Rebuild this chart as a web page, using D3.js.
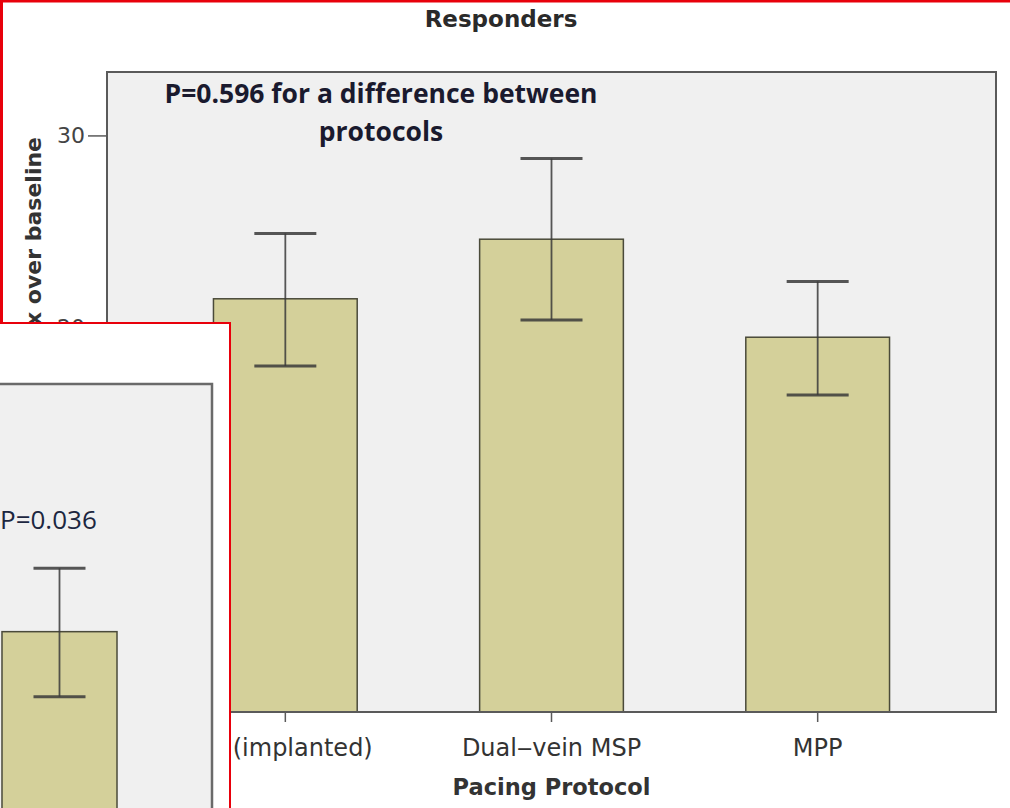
<!DOCTYPE html>
<html>
<head>
<meta charset="utf-8">
<script src="https://cdn.jsdelivr.net/npm/d3@7"></script>
<style>
  body { margin: 0; background: #fff; }
  svg { display: block; }
</style>
</head>
<body>
<div id="chart"></div>
<script>

// main panel: responders
const protocols = ["LV (implanted)", "Dual-vein MSP", "MPP"];
const tickLabels = ["LV (implanted)", "Dual\u2012vein MSP", "MPP"];
const means = [21.5, 24.6, 19.5];
const errLow = [18.0, 20.4, 16.5];
const errHigh = [24.9, 28.8, 22.4];
// lower ticks sit under the inset, only these show
const yTicks = [20, 30];

// inset panel (only its last bar is visible)
const insetCategories = ["Dual-vein MSP", "MPP"];
const insetMeans = [14.0, 16.1];
const insetLow = [10.5, 12.2];
const insetHigh = [17.5, 19.9];

const W = 1010, H = 808;
const barFill = "#d4d09a";
const plotBg = "#f0f0f0";
const frame = "#5a5a5a";
const axisFont = "'DejaVu Sans', sans-serif";
const noteFont = "'Open Sans', 'Noto Sans', sans-serif";

const svg = d3.select("#chart")
    .append("svg")
    .attr("width", W)
    .attr("height", H)
    .style("font-family", axisFont);

const plot = {left: 107, right: 996, top: 72, bottom: 712};

const x = d3.scaleBand()
    .domain(protocols)
    .range([plot.left, plot.right])
    .paddingInner(0.46)
    .paddingOuter(0.4);

const y = d3.scaleLinear()
    .domain([0, 33.3])
    .range([plot.bottom, plot.top]);

// title
svg.append("text")
    .attr("x", 501)
    .attr("y", 27)
    .attr("text-anchor", "middle")
    .attr("font-weight", 700)
    .attr("font-size", 23)
    .attr("fill", "#2a2a2a")
    .text("Responders");

// plot background
svg.append("rect")
    .attr("x", plot.left)
    .attr("y", plot.top)
    .attr("width", plot.right - plot.left)
    .attr("height", plot.bottom - plot.top)
    .attr("fill", plotBg);

// bars
svg.append("g")
    .selectAll("rect")
    .data(means)
    .enter()
    .append("rect")
    .attr("x", (d, i) => x(protocols[i]))
    .attr("y", d => y(d))
    .attr("width", x.bandwidth())
    .attr("height", d => y(0) - y(d))
    .attr("fill", barFill)
    .attr("stroke", "#4a4a3a")
    .attr("stroke-width", 1.5);

const drawErrors = (g, xs, ys, cats, lo, hi, capHalf) => {
    const eb = g.append("g")
        .attr("stroke", "#3a3a3a")
        .attr("stroke-opacity", 0.85)
        .attr("stroke-width", 1.8);
    cats.forEach((c, i) => {
        const cx = xs(c) + xs.bandwidth() / 2;
        eb.append("line")
            .attr("x1", cx).attr("x2", cx)
            .attr("y1", ys(hi[i])).attr("y2", ys(lo[i]));
        [hi[i], lo[i]].forEach(v => {
            eb.append("line")
                .attr("x1", cx - capHalf).attr("x2", cx + capHalf)
                .attr("y1", ys(v)).attr("y2", ys(v))
                .attr("stroke-width", 3);
        });
    });
};

drawErrors(svg, x, y, protocols, errLow, errHigh, 31);

// frame
svg.append("rect")
    .attr("x", plot.left)
    .attr("y", plot.top)
    .attr("width", plot.right - plot.left)
    .attr("height", plot.bottom - plot.top)
    .attr("fill", "none")
    .attr("stroke", frame)
    .attr("stroke-width", 2);

// y axis
const yAxis = svg.append("g")
    .attr("transform", `translate(${plot.left},0)`)
    .call(d3.axisLeft(y).tickValues(yTicks).tickSize(19).tickPadding(3));
yAxis.select(".domain").remove();
yAxis.selectAll("line").attr("stroke", frame).attr("stroke-width", 1.5);
yAxis.selectAll("text")
    .attr("font-size", 22)
    .attr("fill", "#444")
    .attr("font-family", axisFont);

svg.append("text")
    .attr("transform", "translate(41,137) rotate(-90)")
    .attr("text-anchor", "end")
    .attr("font-weight", 700)
    .attr("font-size", 22)
    .attr("fill", "#333")
    .text("LV dP/dtmax over baseline");

// x axis
const xAxis = svg.append("g")
    .attr("transform", `translate(0,${plot.bottom})`)
    .call(d3.axisBottom(x).tickSize(10).tickPadding(17).tickFormat((d, i) => tickLabels[i]));
xAxis.select(".domain").remove();
xAxis.selectAll("line").attr("stroke", frame).attr("stroke-width", 1.5);
xAxis.selectAll("text")
    .attr("font-size", 24)
    .attr("fill", "#333")
    .attr("font-family", axisFont);

svg.append("text")
    .attr("x", x("Dual-vein MSP") + x.bandwidth() / 2)
    .attr("y", 795)
    .attr("text-anchor", "middle")
    .attr("font-weight", 700)
    .attr("font-size", 22.5)
    .attr("fill", "#333")
    .text("Pacing Protocol");

// annotation
const note = svg.append("text")
    .attr("text-anchor", "middle")
    .attr("font-family", noteFont)
    .attr("font-weight", 700)
    .attr("font-size", 26.5)
    .attr("fill", "#1a1a2e");
note.append("tspan").attr("x", 381).attr("y", 103).text("P=0.596 for a difference between");
note.append("tspan").attr("x", 381).attr("y", 141).text("protocols");

// red outline of the main panel
svg.append("path")
    .attr("d", `M1.5,${H} V1 H${W}`)
    .attr("fill", "none")
    .attr("stroke", "#e8000b")
    .attr("stroke-width", 3);

// inset panel overlapping the lower left corner
const inset = {left: 0, top: 323, right: 230, bottom: H};
svg.append("clipPath").attr("id", "inset-clip")
    .append("rect")
    .attr("x", inset.left).attr("y", inset.top)
    .attr("width", inset.right - inset.left)
    .attr("height", inset.bottom - inset.top);

const ig = svg.append("g").attr("clip-path", "url(#inset-clip)");

ig.append("rect")
    .attr("x", inset.left).attr("y", inset.top)
    .attr("width", inset.right - inset.left)
    .attr("height", inset.bottom - inset.top)
    .attr("fill", "#fff");

const iPlot = {left: -320, right: 212, top: 384, bottom: 900};

const ix = d3.scaleBand()
    .domain(insetCategories)
    .range([-306, iPlot.right])
    .paddingInner(0.46)
    .paddingOuter(0.446);

const iy = d3.scaleLinear()
    .domain([0, 30])
    .range([iPlot.bottom, 400]);

ig.append("rect")
    .attr("x", iPlot.left).attr("y", iPlot.top)
    .attr("width", iPlot.right - iPlot.left)
    .attr("height", iPlot.bottom - iPlot.top)
    .attr("fill", plotBg)
    .attr("stroke", "#6a6a6a")
    .attr("stroke-width", 2.5);

ig.append("g")
    .selectAll("rect")
    .data(insetMeans)
    .enter()
    .append("rect")
    .attr("x", (d, i) => ix(insetCategories[i]))
    .attr("y", d => iy(d))
    .attr("width", ix.bandwidth())
    .attr("height", d => iy(0) - iy(d))
    .attr("fill", barFill)
    .attr("stroke", "#4a4a3a")
    .attr("stroke-width", 1.5);

drawErrors(ig, ix, iy, insetCategories, insetLow, insetHigh, 26);

ig.append("text")
    .attr("x", 0)
    .attr("y", 529)
    .attr("font-family", noteFont)
    .attr("font-size", 26)
    .attr("fill", "#1c2740")
    .text("P=0.036");

svg.append("path")
    .attr("d", `M0,${inset.top} H${inset.right} V${H}`)
    .attr("fill", "none")
    .attr("stroke", "#e8000b")
    .attr("stroke-width", 2);

</script>
</body>
</html>
